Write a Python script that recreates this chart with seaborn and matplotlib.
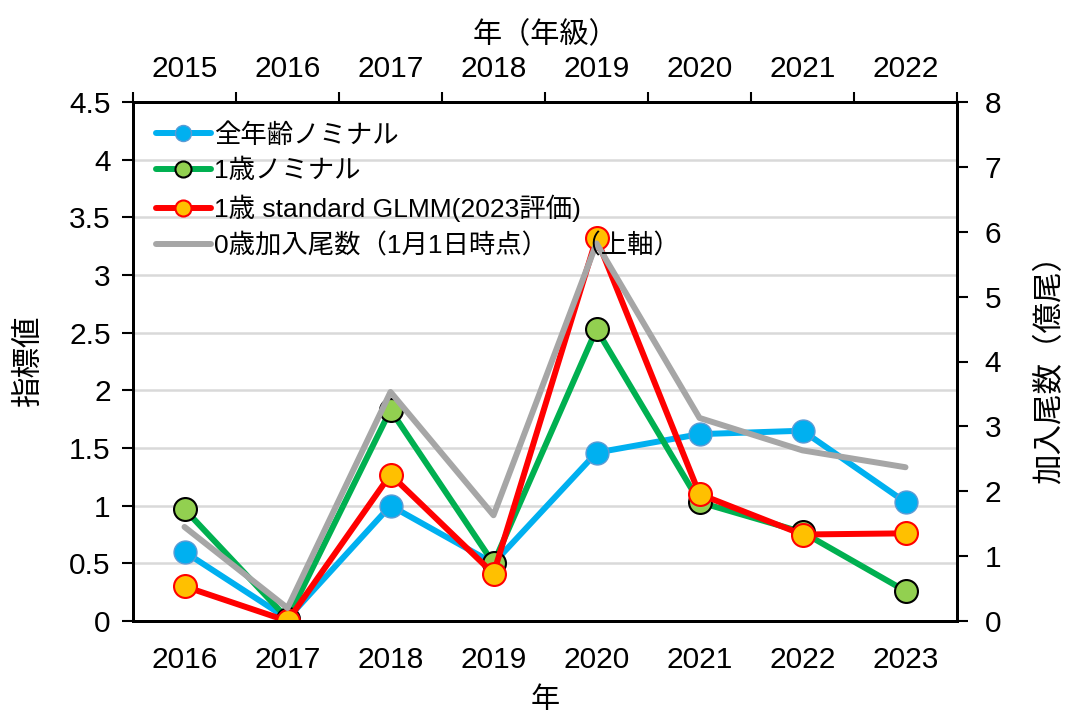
import matplotlib

matplotlib.use("Agg")

import matplotlib.pyplot as plt
import numpy as np
import seaborn as sns
from matplotlib.ticker import FixedLocator, NullFormatter, FuncFormatter

# Data
years_bottom = [2016, 2017, 2018, 2019, 2020, 2021, 2022, 2023]
years_top = [2015, 2016, 2017, 2018, 2019, 2020, 2021, 2022]
all_age_nominal = [0.60, 0.02, 1.00, 0.50, 1.46, 1.62, 1.65, 1.03]
age1_nominal = [0.97, 0.02, 1.83, 0.50, 2.53, 1.03, 0.77, 0.26]
age1_glmm = [0.30, 0.00, 1.27, 0.41, 3.32, 1.10, 0.75, 0.76]
age0_recruits = [1.45, 0.20, 3.53, 1.63, 5.82, 3.13, 2.63, 2.37]  # 億尾, top/right axes

labels = [
    "全年齢ノミナル",
    "1歳ノミナル",
    "1歳 standard GLMM(2023評価)",
    "0歳加入尾数（1月1日時点）　（上軸）",
]

sns.set_style("white")
plt.rcParams["font.family"] = ["Liberation Sans", "Noto Sans CJK JP"]
plt.rcParams["text.color"] = "black"
plt.rcParams["xtick.color"] = "black"
plt.rcParams["ytick.color"] = "black"
plt.rcParams["axes.labelcolor"] = "black"

fig = plt.figure(figsize=(10.7, 7.19), dpi=100)
ax = fig.add_axes([133 / 1070, 98 / 719, 824 / 1070, 519 / 719])
axr = ax.twinx()
axt = axr.twiny()

lw = 4.3
ms = 16.5
sns.lineplot(x=years_bottom, y=all_age_nominal, ax=ax, color="#00B0F0", linewidth=lw,
             marker="o", markersize=ms, markerfacecolor="#00B0F0",
             markeredgecolor="#5B9BD5", markeredgewidth=1.0, label=labels[0])
sns.lineplot(x=years_bottom, y=age1_nominal, ax=ax, color="#00B050", linewidth=lw,
             marker="o", markersize=ms, markerfacecolor="#92D050",
             markeredgecolor="black", markeredgewidth=1.5, label=labels[1])
sns.lineplot(x=years_bottom, y=age1_glmm, ax=ax, color="#FF0000", linewidth=lw,
             marker="o", markersize=ms, markerfacecolor="#FFC000",
             markeredgecolor="#FF0000", markeredgewidth=1.5, label=labels[2])
sns.lineplot(x=years_top, y=age0_recruits, ax=axt, color="#A6A6A6", linewidth=lw,
             label=labels[3])

tick_size = 21.5

# bottom / left axes
ax.set_xlim(years_bottom[0] - 0.5, years_bottom[-1] + 0.5)
ax.set_ylim(0, 4.5)
ax.set_yticks(np.arange(0, 4.51, 0.5))
ax.yaxis.set_major_formatter(FuncFormatter(lambda v, p: f"{v:g}"))
ax.xaxis.set_major_locator(FixedLocator(np.arange(years_bottom[0] - 0.5, years_bottom[-1] + 0.6, 1)))
ax.xaxis.set_major_formatter(NullFormatter())
ax.xaxis.set_minor_locator(FixedLocator(years_bottom))
ax.set_xticklabels([str(y) for y in years_bottom], minor=True)
ax.tick_params(axis="x", which="minor", length=0, pad=18, labelsize=tick_size)
ax.tick_params(axis="x", which="major", length=7, width=1.5, direction="out")
ax.tick_params(axis="y", length=8, width=1.5, direction="out", labelsize=tick_size, pad=8)
ax.grid(axis="y", color="#D9D9D9", lw=1.8)
ax.grid(axis="x", visible=False)
ax.set_axisbelow(True)
ax.set_xlabel("年", fontsize=21, labelpad=9)
ax.set_ylabel("指標値", fontsize=22, labelpad=18)

# right axis
axr.set_ylim(0, 8)
axr.set_yticks(range(0, 9))
axr.tick_params(axis="y", length=8, width=1.5, direction="out", labelsize=tick_size, pad=12)
axr.set_ylabel("加入尾数（億尾）", fontsize=22, rotation=90, labelpad=24)

# top axis
axt.set_xlim(years_top[0] - 0.5, years_top[-1] + 0.5)
axt.xaxis.set_major_locator(FixedLocator(np.arange(years_top[0] - 0.5, years_top[-1] + 0.6, 1)))
axt.xaxis.set_major_formatter(NullFormatter())
axt.xaxis.set_minor_locator(FixedLocator(years_top))
axt.set_xticklabels([str(y) for y in years_top], minor=True)
axt.tick_params(axis="x", which="minor", length=0, pad=14, labelsize=tick_size)
axt.tick_params(axis="x", which="major", length=7, width=1.5, direction="out")
axt.set_xlabel("年（年級）", fontsize=21, labelpad=8)

for a in (ax, axr, axt):
    for s in a.spines.values():
        s.set_color("black")
        s.set_linewidth(2)

# legend on the top-most axes
h1, l1 = ax.get_legend_handles_labels()
h2, l2 = axt.get_legend_handles_labels()
ax.get_legend().remove()
axt.get_legend().remove()
axt.legend(h1 + h2, l1 + l2, loc="upper left", bbox_to_anchor=(0.005, 0.995),
           frameon=False, fontsize=19, handlelength=2.1, handletextpad=0.1,
           labelspacing=0.43, markerscale=0.7, borderaxespad=0.3)

fig.savefig("out.png", dpi=100)
